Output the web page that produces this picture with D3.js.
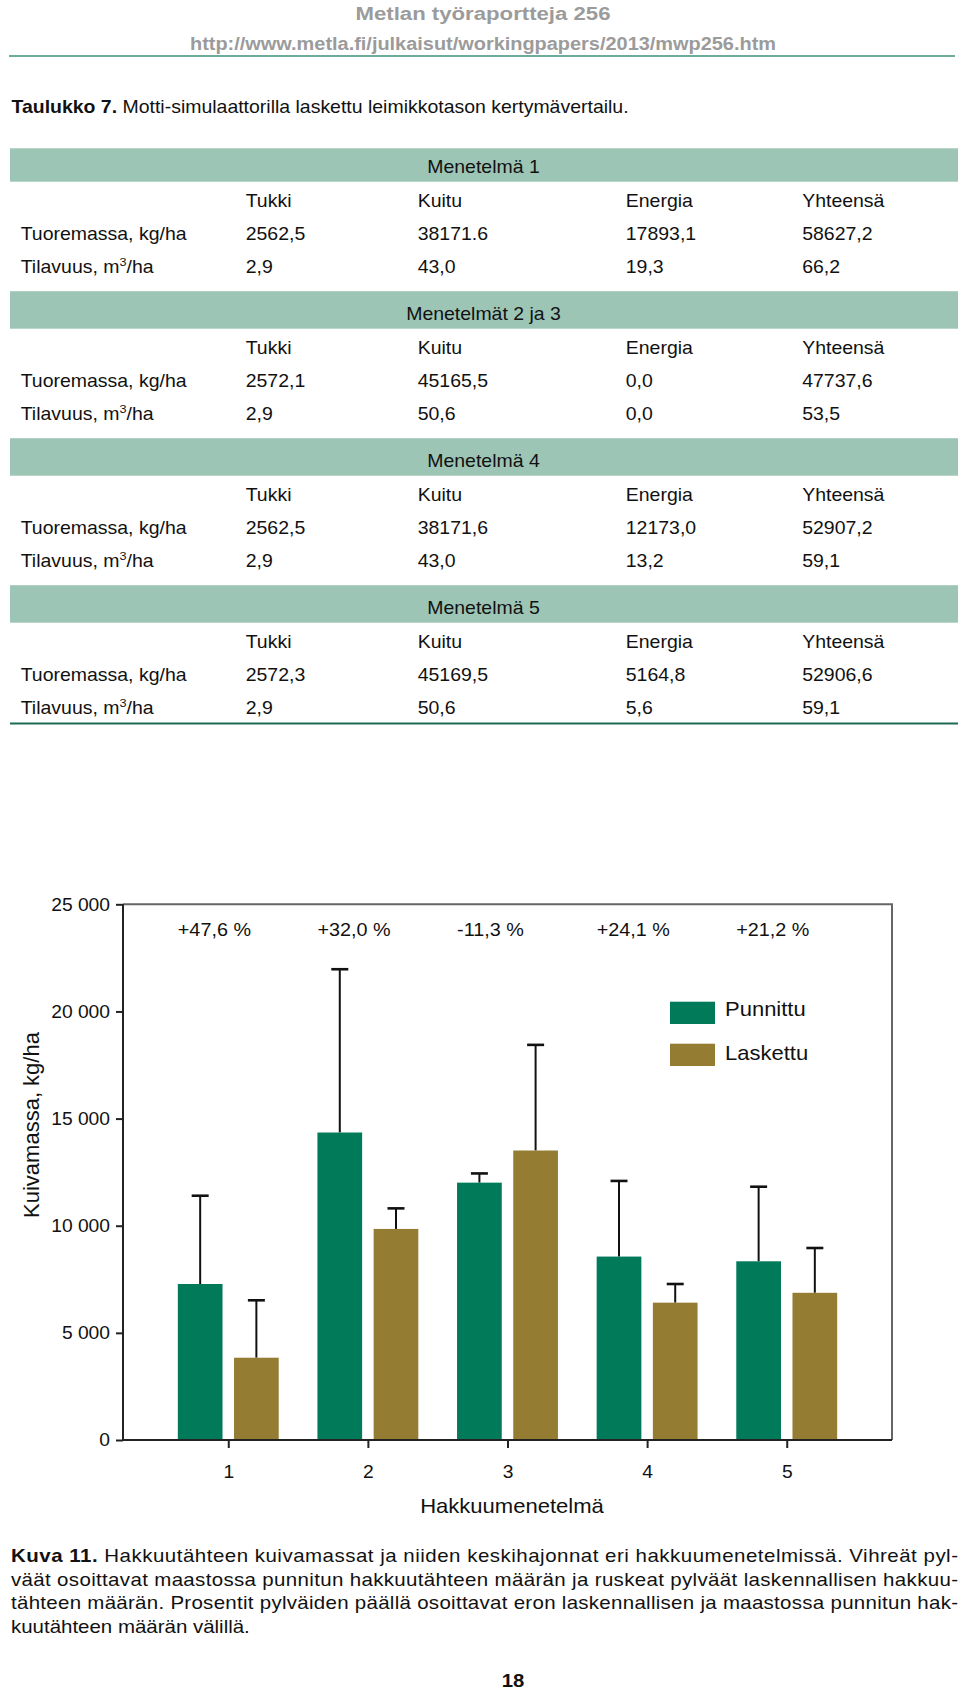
<!DOCTYPE html>
<html>
<head>
<meta charset="utf-8">
<script src="https://cdn.jsdelivr.net/npm/d3@7"></script>
<style>
  html, body { margin: 0; padding: 0; background: #fff; }
  svg { display: block; }
  text { font-family: "Liberation Sans", Arial, Helvetica, sans-serif; }
</style>
</head>
<body>
<div id="chart"></div>
<script>
// ---------------- DATA ----------------
const headerTitle = "Metlan työraportteja 256";
const headerUrl = "http://www.metla.fi/julkaisut/workingpapers/2013/mwp256.htm";
const tableCaptionBold = "Taulukko 7.";
const tableCaptionText = " Motti-simulaattorilla laskettu leimikkotason kertymävertailu.";

const tableBlocks = ["Menetelmä 1", "Menetelmät 2 ja 3", "Menetelmä 4", "Menetelmä 5"];
const tableCols = ["Tukki", "Kuitu", "Energia", "Yhteensä"];
const rowLabelMass = "Tuoremassa, kg/ha";
const rowLabelVolPre = "Tilavuus, m";
const rowLabelVolSup = "3";
const rowLabelVolPost = "/ha";
const tuoremassa = [
  ["2562,5", "38171.6", "17893,1", "58627,2"],
  ["2572,1", "45165,5", "0,0", "47737,6"],
  ["2562,5", "38171,6", "12173,0", "52907,2"],
  ["2572,3", "45169,5", "5164,8", "52906,6"]
];
const tilavuus = [
  ["2,9", "43,0", "19,3", "66,2"],
  ["2,9", "50,6", "0,0", "53,5"],
  ["2,9", "43,0", "13,2", "59,1"],
  ["2,9", "50,6", "5,6", "59,1"]
];

const methods = ["1", "2", "3", "4", "5"];
const punnittu = [7280, 14350, 12010, 8560, 8340];
const punnittuSD = [4120, 7620, 430, 3530, 3480];
const laskettu = [3840, 9850, 13510, 6410, 6870];
const laskettuSD = [2680, 960, 4930, 870, 2090];
const diffLabels = ["+47,6 %", "+32,0 %", "-11,3 %", "+24,1 %", "+21,2 %"];
const seriesNames = ["Punnittu", "Laskettu"];
const yTicks = [0, 5000, 10000, 15000, 20000, 25000];
const yTitle = "Kuivamassa, kg/ha";
const xTitle = "Hakkuumenetelmä";

const captionBold = "Kuva 11.";
const captionLines = [
  "  Hakkuutähteen kuivamassat ja niiden keskihajonnat eri hakkuumenetelmissä.  Vihreät pyl-",
  "väät osoittavat maastossa punnitun hakkuutähteen määrän ja ruskeat pylväät laskennallisen hakkuu-",
  "tähteen määrän.  Prosentit pylväiden päällä osoittavat eron laskennallisen ja maastossa punnitun hak-",
  "kuutähteen määrän välillä."
];
const pageNumber = "18";

// ---------------- STYLE ----------------
const W = 960, H = 1691;
const SX = 1.1; // horizontal text stretch seen in the reference
const GREEN = "#017a5a", BROWN = "#947c33", BAND = "#9cc5b5", INK = "#111";

const svg = d3.select("#chart").append("svg").attr("width", W).attr("height", H);
svg.append("rect").attr("width", W).attr("height", H).attr("fill", "#fff");

function addText(parent, x, y, parts, o = {}) {
  const sx = o.sx == null ? SX : o.sx;
  const t = parent.append("text")
    .attr("transform", `translate(${x},${y}) scale(${sx},1)`)
    .attr("font-size", o.size || 18)
    .attr("fill", o.fill || INK)
    .attr("text-anchor", o.anchor || "start");
  if (o.weight) t.attr("font-weight", o.weight);
  if (o.len) t.attr("textLength", o.len / sx).attr("lengthAdjust", o.adjust || "spacing");
  if (typeof parts === "string") t.text(parts);
  else parts.forEach(p => {
    const ts = t.append("tspan").text(p.t);
    if (p.w) ts.attr("font-weight", p.w);
    if (p.size) ts.attr("font-size", p.size);
    if (p.dy) ts.attr("dy", p.dy);
  });
  return t;
}

// ---------------- PAGE HEADER ----------------
addText(svg, 483, 19.5, headerTitle, {size: 17.5, weight: "bold", fill: "#9b9b9b", anchor: "middle", sx: 1, len: 255, adjust: "spacingAndGlyphs"});
addText(svg, 483, 50, headerUrl, {size: 17.5, weight: "bold", fill: "#9b9b9b", anchor: "middle", sx: 1, len: 586, adjust: "spacingAndGlyphs"});
svg.append("line").attr("x1", 9).attr("x2", 955).attr("y1", 56).attr("y2", 56)
  .attr("stroke", "#3f8f7c").attr("stroke-width", 1.6);

addText(svg, 11.5, 113, [{t: tableCaptionBold, w: "bold"}, {t: tableCaptionText}], {size: 17.7});

// ---------------- TABLE ----------------
const colX = [245.7, 417.7, 625.8, 802.2];
const labelX = 20.7;
tableBlocks.forEach((name, i) => {
  const bottom = 181.7 + i * 147;
  const top = i === 0 ? 148.3 : bottom - 37.5;
  svg.append("rect").attr("x", 10).attr("y", top).attr("width", 948).attr("height", bottom - top).attr("fill", BAND);
  addText(svg, 483.5, bottom - 8.4, name, {size: 17.7, anchor: "middle"});
  tableCols.forEach((c, j) => addText(svg, colX[j], bottom + 25, c, {size: 17.7}));
  addText(svg, labelX, bottom + 58.3, rowLabelMass, {size: 17.7});
  tuoremassa[i].forEach((v, j) => addText(svg, colX[j], bottom + 58.3, v, {size: 17.7}));
  addText(svg, labelX, bottom + 91.3, [{t: rowLabelVolPre}, {t: rowLabelVolSup, size: 11.5, dy: -7}, {t: rowLabelVolPost, dy: 7}], {size: 17.7});
  tilavuus[i].forEach((v, j) => addText(svg, colX[j], bottom + 91.3, v, {size: 17.7}));
});
svg.append("line").attr("x1", 10).attr("x2", 958).attr("y1", 723.5).attr("y2", 723.5)
  .attr("stroke", "#1d6b55").attr("stroke-width", 2.2);

// ---------------- CHART ----------------
const L = 123, R = 892, T = 904.3, B = 1440;
const x = d3.scalePoint().domain(methods).range([L, R]).padding(0.754);
const y = d3.scaleLinear().domain([0, 25000]).range([B, T]);
const barW = 44.7, gap = 11.5;
const chart = svg.append("g");

// bars
const rows = methods.map((m, i) => ({m, i}));
const series = [
  {vals: punnittu, sd: punnittuSD, color: GREEN, off: -(gap / 2 + barW)},
  {vals: laskettu, sd: laskettuSD, color: BROWN, off: gap / 2}
];
series.forEach(s => {
  // error bars
  chart.selectAll(null).data(rows).join("line")
    .attr("x1", d => x(d.m) + s.off + barW / 2).attr("x2", d => x(d.m) + s.off + barW / 2)
    .attr("y1", d => y(s.vals[d.i])).attr("y2", d => y(s.vals[d.i] + s.sd[d.i]))
    .attr("stroke", INK).attr("stroke-width", 2);
  chart.selectAll(null).data(rows).join("line")
    .attr("x1", d => x(d.m) + s.off + barW / 2 - 8.5).attr("x2", d => x(d.m) + s.off + barW / 2 + 8.5)
    .attr("y1", d => y(s.vals[d.i] + s.sd[d.i])).attr("y2", d => y(s.vals[d.i] + s.sd[d.i]))
    .attr("stroke", INK).attr("stroke-width", 2.6);
  chart.selectAll(null).data(rows).join("rect")
    .attr("x", d => x(d.m) + s.off).attr("width", barW)
    .attr("y", d => y(s.vals[d.i])).attr("height", d => B - y(s.vals[d.i]))
    .attr("fill", s.color);
});

// frame
chart.append("path").attr("d", `M${L},${T}H${R}V${B}`).attr("fill", "none").attr("stroke", "#666").attr("stroke-width", 2);

// y axis
const fmt = d => d3.format(",")(d).replace(/,/g, " ");
const yAxis = chart.append("g").attr("transform", `translate(${L},0)`)
  .call(d3.axisLeft(y).tickValues(yTicks).tickSize(7).tickPadding(6).tickFormat(fmt));
yAxis.select(".domain").attr("stroke", "#222").attr("stroke-width", 2).attr("d", `M0,${T}V${B}`);
yAxis.selectAll(".tick line").attr("stroke", "#222").attr("stroke-width", 2);
yAxis.selectAll(".tick text").attr("x", -13 / SX).attr("dy", "0.34em")
  .attr("transform", `scale(${SX},1)`).attr("font-size", 17.5).attr("fill", INK)
  .style("font-family", '"Liberation Sans", Arial, sans-serif');

// x axis
const xAxis = chart.append("g").attr("transform", `translate(0,${B})`)
  .call(d3.axisBottom(x).tickSize(8));
xAxis.select(".domain").attr("stroke", "#222").attr("stroke-width", 2).attr("d", `M${L},0H${R}`);
xAxis.selectAll(".tick line").attr("stroke", "#222").attr("stroke-width", 2);
xAxis.selectAll(".tick text").attr("y", 38).attr("dy", null)
  .attr("transform", `scale(${SX},1)`).attr("x", 0).attr("font-size", 17.5).attr("fill", INK)
  .style("font-family", '"Liberation Sans", Arial, sans-serif');

// percent labels
rows.forEach(d => addText(chart, x(d.m) + series[0].off, 936, diffLabels[d.i], {size: 18}));

// legend
const legX = 670, legY = [1001.7, 1043.7];
series.forEach((s, k) => {
  chart.append("rect").attr("x", legX).attr("y", legY[k]).attr("width", 45).attr("height", 22.3).attr("fill", s.color);
  addText(chart, legX + 55, legY[k] + 14 + (k ? 2.5 : 0), seriesNames[k], {size: 20});
});

// axis titles
chart.append("text")
  .attr("transform", `translate(39,1125) rotate(-90)`)
  .attr("text-anchor", "middle").attr("font-size", 22).attr("fill", INK).text(yTitle);
addText(chart, 512, 1513, xTitle, {size: 21, anchor: "middle", sx: 1.05});

// ---------------- CAPTION ----------------
const capY = [1562, 1585.5, 1609, 1632.5];
captionLines.forEach((line, i) => {
  const parts = i === 0 ? [{t: captionBold, w: "bold"}, {t: line}] : [{t: line}];
  const opts = {size: 18.6};
  if (i < 3) { opts.len = 947; opts.adjust = "spacing"; }
  addText(svg, 11, capY[i], parts, opts);
});
addText(svg, 513, 1687, pageNumber, {size: 18.5, weight: "bold", anchor: "middle"});
</script>
</body>
</html>
